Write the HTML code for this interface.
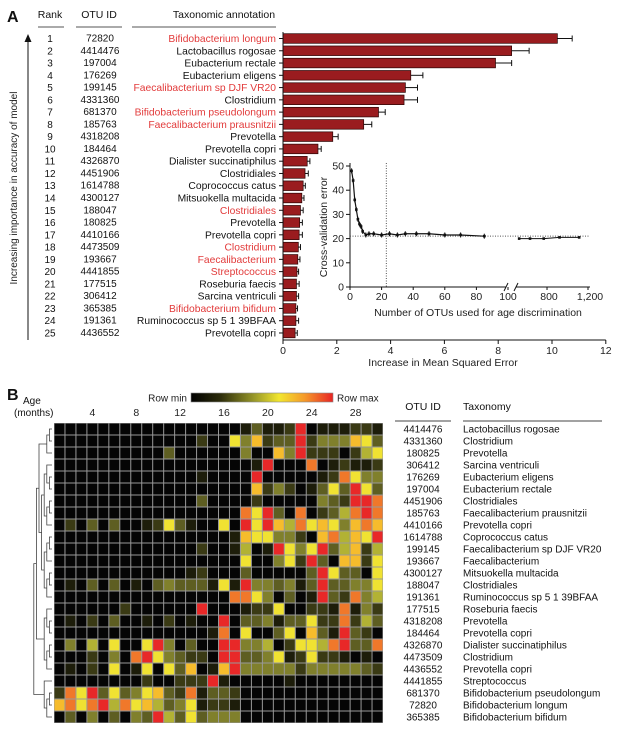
<!DOCTYPE html>
<html><head><meta charset="utf-8"><style>
html,body{margin:0;padding:0;background:#fff;}
svg{display:block;font-family:"Liberation Sans",sans-serif;}
</style></head><body>
<svg id="fig" width="640" height="729" viewBox="0 0 640 729" xmlns="http://www.w3.org/2000/svg"></svg>
<script>
// ---------- Panel A data ----------
const ranks = [1,2,3,4,5,6,7,8,9,10,11,12,13,14,15,16,17,18,19,20,21,22,23,24,25];
const otuIds = ["72820","4414476","197004","176269","199145","4331360","681370","185763","4318208","184464","4326870","4451906","1614788","4300127","188047","180825","4410166","4473509","193667","4441855","177515","306412","365385","191361","4436552"];
const taxa = ["Bifidobacterium longum","Lactobacillus rogosae","Eubacterium rectale","Eubacterium eligens","Faecalibacterium sp DJF VR20","Clostridium","Bifidobacterium pseudolongum","Faecalibacterium prausnitzii","Prevotella","Prevotella copri","Dialister succinatiphilus","Clostridiales","Coprococcus catus","Mitsuokella multacida","Clostridiales","Prevotella","Prevotella copri","Clostridium","Faecalibacterium","Streptococcus","Roseburia faecis","Sarcina ventriculi","Bifidobacterium bifidum","Ruminococcus sp 5 1 39BFAA","Prevotella copri"];
const redLabel = [1,0,0,0,1,0,1,1,0,0,0,0,0,0,1,0,0,1,1,1,0,0,1,0,0];
const mseValues = [10.2,8.5,7.9,4.75,4.55,4.5,3.55,3.0,1.85,1.3,0.9,0.82,0.75,0.7,0.65,0.62,0.6,0.57,0.55,0.52,0.5,0.5,0.48,0.48,0.45];
const mseErrors = [0.55,0.65,0.6,0.45,0.45,0.5,0.25,0.3,0.2,0.12,0.1,0.12,0.08,0.08,0.1,0.1,0.12,0.08,0.08,0.06,0.1,0.08,0.06,0.1,0.08];
const mseTicks = [0,2,4,6,8,10,12];
// inset
const cvOtus = [1,2,3,4,5,6,7,8,10,12,15,20,25,30,35,42,50,60,70,85];
const cvErr = [48,44,36,32,28,26,25,23,21.5,22,22,21.5,22,21.5,22,22,22,21.5,21.5,21];
const cvOtusHigh = [528,634,768,922,1114];
const cvErrHigh = [20,20,20,20.5,20.5];
const cvYTicks = [0,10,20,30,40,50];
const cvXTicksLow = [0,20,40,60,80,100];
const cvXTicksHigh = [800,1200];
// ---------- Panel B data ----------
const monthTicks = [4,8,12,16,20,24,28];
const hmOtus = ["4414476","4331360","180825","306412","176269","197004","4451906","185763","4410166","1614788","199145","193667","4300127","188047","191361","177515","4318208","184464","4326870","4473509","4436552","4441855","681370","72820","365385"];
const hmTaxa = ["Lactobacillus rogosae","Clostridium","Prevotella","Sarcina ventriculi","Eubacterium eligens","Eubacterium rectale","Clostridiales","Faecalibacterium prausnitzii","Prevotella copri","Coprococcus catus","Faecalibacterium sp DJF VR20","Faecalibacterium","Mitsuokella multacida","Clostridiales","Ruminococcus sp 5 1 39BFAA","Roseburia faecis","Prevotella","Prevotella copri","Dialister succinatiphilus","Clostridium","Prevotella copri","Streptococcus","Bifidobacterium pseudolongum","Bifidobacterium longum","Bifidobacterium bifidum"];
const hmRows = [
"000000000000000001311290111221",
"000000000000020064723392444763",
"000000000030000004007492220256",
"000000000000000000190008012112",
"000000000000010000900000128644",
"000000000000000000724201363963",
"000000000000030000200000432998",
"000000000000000008693080235898",
"020303001263100609697586764787",
"000000000000000017664420785769",
"000000000000020015019646935725",
"000000000000000006004629307726",
"000000000000120003000003963306",
"010303010343331619443413933446",
"000000000000000088640301932845",
"000000200000090001226002218142",
"010203001020100903341336228253",
"000000000000001806003607319320",
"040506006940300994450266589338",
"000204089643220993346126221010",
"010206016063701794444424444432",
"000000002002229100000100000000",
"286936346732813320000000000000",
"786895867534612210000000000000",
"030403043953634440000000000000"];
const tree = [[[[[0,1],2],[[[3,[4,5]],[[6,7],8]],[[[9,10],11],[[12,13],14]]]],[[15,[16,17]],[[18,19],20]]],[21,[[22,23],24]]];

const NS="http://www.w3.org/2000/svg";
const svg=document.getElementById('fig');
function el(tag,attrs,parent){const e=document.createElementNS(NS,tag);for(const k in attrs)e.setAttribute(k,attrs[k]);(parent||svg).appendChild(e);return e;}
function txt(s,x,y,size,anchor,fill,parent,extra){const t=el('text',Object.assign({x:x,y:y,'font-size':size,'text-anchor':anchor||'start',fill:fill||'#111'},extra||{}),parent);t.textContent=s;return t;}

// ---------- Panel A ----------
const gA=el('g',{});


const pa=txt('A',7,22,16,'start','#111',gA,{'font-weight':'bold'});


const hdr=[["Rank",50,38,64],["OTU ID",99,76,122],["Taxonomic annotation",224,132,276]];
hdr.forEach(h=>{const t=txt(h[0],h[1],18,10.5,'middle','#111',gA);


el('line',{x1:h[2],x2:h[3],y1:27,y2:27,stroke:'#555','stroke-width':1},gA);});
// arrow
el('line',{x1:28,x2:28,y1:40,y2:340,stroke:'#111','stroke-width':1},gA);
const arr=el('path',{d:'M24.5,42 L28,34 L31.5,42 Z',fill:'#111'},gA);


const yt=txt('Increasing importance in accuracy of model',0,0,10,'middle','#222',gA,{transform:'translate(17,188) rotate(-90)'});



const x0=283, xUnit=26.9, rowY0=38.5, rowStep=12.27;
const xs=v=>x0+v*xUnit, ys=i=>rowY0+i*rowStep;
ranks.forEach((r,i)=>{
  const y=ys(i);
  const rt=txt(String(r),50,y+3.5,10,'middle','#111',gA);
  
  
  const ot=txt(otuIds[i],100,y+3,10,'middle','#111',gA);
  
  
  const tl=txt(taxa[i],276,y+3.5,10.3,'end',redLabel[i]?'#e23a3a':'#111',gA);
  
  
  el('line',{x1:279,x2:283,y1:y,y2:y,stroke:'#111','stroke-width':1},gA);
  const b=el('rect',{x:xs(0),y:y-4.8,width:xs(mseValues[i])-xs(0),height:9.6,fill:'#9a1c1f',stroke:'#2a0505','stroke-width':0.7},gA);
  
  
  const ex=xs(mseValues[i]+mseErrors[i]);
  el('line',{x1:xs(mseValues[i]),x2:ex,y1:y,y2:y,stroke:'#111','stroke-width':1},gA);
  el('line',{x1:ex,x2:ex,y1:y-3,y2:y+3,stroke:'#111','stroke-width':1},gA);
});
el('line',{x1:283,x2:283,y1:32,y2:340,stroke:'#111','stroke-width':1},gA);
el('line',{x1:283,x2:xs(12),y1:340,y2:340,stroke:'#111','stroke-width':1},gA);
mseTicks.forEach(t=>{el('line',{x1:xs(t),x2:xs(t),y1:340,y2:344,stroke:'#111'},gA);
const tk=txt(String(t),xs(t),354,10.5,'middle','#222',gA);

});
const xt=txt('Increase in Mean Squared Error',443,366,10.5,'middle','#222',gA);



// ---------- Inset ----------
const gI=el('g',{});


const iy0=287, iyUnit=(287-166)/50;
const iys=v=>iy0-v*iyUnit;
const ixL=v=>350+v*1.58;
const ixH=v=>517+(v-507)*(588-517)/(1200-507);
el('line',{x1:350,x2:350,y1:163,y2:287,stroke:'#111'},gI);
el('line',{x1:350,x2:506,y1:287,y2:287,stroke:'#111'},gI);
el('line',{x1:516,x2:590,y1:287,y2:287,stroke:'#111'},gI);
el('line',{x1:504,x2:508,y1:291,y2:283,stroke:'#111'},gI);
el('line',{x1:514,x2:518,y1:291,y2:283,stroke:'#111'},gI);
cvYTicks.forEach(t=>{el('line',{x1:346,x2:350,y1:iys(t),y2:iys(t),stroke:'#111'},gI);
const k=txt(String(t),344,iys(t)+3.5,10.5,'end','#222',gI);

});
cvXTicksLow.forEach(t=>{el('line',{x1:ixL(t),x2:ixL(t),y1:287,y2:290,stroke:'#111'},gI);
const k=txt(String(t),ixL(t),300,10.5,'middle','#222',gI);

});
cvXTicksHigh.forEach(t=>{el('line',{x1:ixH(t),x2:ixH(t),y1:287,y2:290,stroke:'#111'},gI);
const k=txt(t.toLocaleString('en-US'),ixH(t)+2,300,10.5,'middle','#222',gI);

});
el('line',{x1:ixL(23),x2:ixL(23),y1:163,y2:287,stroke:'#555','stroke-dasharray':'1,1.5'},gI);
el('line',{x1:350,x2:590,y1:iys(21),y2:iys(21),stroke:'#555','stroke-dasharray':'1,1.5'},gI);
let pts=cvOtus.map((o,i)=>ixL(o)+','+iys(cvErr[i])).join(' ');
el('polyline',{points:pts,fill:'none',stroke:'#111','stroke-width':1.2},gI);
el('polyline',{points:cvOtusHigh.map((o,i)=>ixH(o)+','+iys(cvErrHigh[i])).join(' '),fill:'none',stroke:'#111','stroke-width':1},gI);
cvOtus.forEach((o,i)=>{const p=el('rect',{x:ixL(o)-1.3,y:iys(cvErr[i])-1.3,width:2.6,height:2.6,fill:'#111'},gI);


el('line',{x1:ixL(o),x2:ixL(o),y1:iys(cvErr[i])-2.5,y2:iys(cvErr[i])+2.5,stroke:'#111'},gI);});
cvOtusHigh.forEach((o,i)=>{const p=el('rect',{x:ixH(o)-1.3,y:iys(cvErrHigh[i])-1.3,width:2.6,height:2.6,fill:'#111'},gI);

});
const it=txt('Cross-validation error',0,0,10.5,'middle','#222',gI,{transform:'translate(327,227) rotate(-90)'});


const ix=txt('Number of OTUs used for age discrimination',478,316,10.5,'middle','#222',gI);



// ---------- Panel B ----------
const gB=el('g',{});


const pb=txt('B',7,400,16,'start','#111',gB,{'font-weight':'bold'});


txt('Age',23,404,10,'start','#111',gB);
txt('(months)',14,416,10,'start','#111',gB);
const defs=el('defs',{});
const lg=el('linearGradient',{id:'cb',x1:0,x2:1,y1:0,y2:0},defs);
[['0','#000'],['0.2','#2a2a0a'],['0.45','#9a9a2a'],['0.62','#f2e62e'],['0.8','#f59a2a'],['1','#e82424']].forEach(s=>el('stop',{offset:s[0],'stop-color':s[1]},lg));
const cb=el('rect',{x:191,y:393,width:142,height:9,fill:'url(#cb)',stroke:'#888','stroke-width':0.6},gB);


txt('Row min',187,401.5,10,'end','#222',gB);
txt('Row max',337,401.5,10,'start','#222',gB);
const hx0=54, cw=(383-54)/30, hy0=423, ch=(723-423)/25;
const pal=['#050505','#1d1d0a','#3a3a14','#5e5e22','#80802c','#b2b234','#f0e232','#f6bc2c','#f0782a','#e82828'];
monthTicks.forEach(m=>{const k=txt(String(m),hx0+(m-0.5)*cw,416,10.5,'middle','#222',gB);

});
el('rect',{x:hx0,y:hy0,width:cw*30,height:ch*25,fill:'#999'},gB);
hmRows.forEach((row,r)=>{for(let c=0;c<30;c++){
  const cell=el('rect',{x:hx0+c*cw+0.5,y:hy0+r*ch+0.5,width:cw-1,height:ch-1,fill:pal[+row[c]]},gB);
  
  
}});
// dendrogram
const dg=el('g',{stroke:'#444','stroke-width':0.8,fill:'none'},gB);


function lay(n){if(typeof n==='number')return {y:hy0+(n+0.5)*ch,h:0};
 const a=lay(n[0]),b=lay(n[1]);const h=Math.max(a.h,b.h)+1;const x=52-h*2.6;
 const xa=52-a.h*2.6, xb=52-b.h*2.6;
 el('path',{d:`M${xa},${a.y}H${x}V${b.y}H${xb}`},dg);
 return {y:(a.y+b.y)/2,h:h};}
lay(tree);
// right table
const hy=410;
txt('OTU ID',423,hy,10.5,'middle','#111',gB);
txt('Taxonomy',463,hy,10.5,'start','#111',gB);
el('line',{x1:395,x2:451,y1:421,y2:421,stroke:'#444'},gB);
el('line',{x1:463,x2:602,y1:421,y2:421,stroke:'#444'},gB);
hmOtus.forEach((o,i)=>{const y=hy0+(i+0.5)*ch+3.5;
 const a=txt(o,423,y,10,'middle','#111',gB);
 
 
 const b=txt(hmTaxa[i],463,y,10,'start','#111',gB);
 
 
});
</script>
</body></html>
